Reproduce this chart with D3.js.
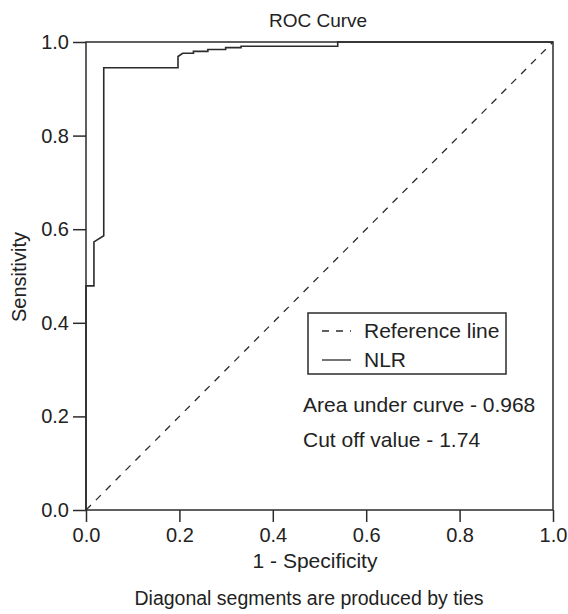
<!DOCTYPE html>
<html>
<head>
<meta charset="utf-8">
<style>
body { margin: 0; background: #fff; }
text { font-family: "Liberation Sans", Arial, sans-serif; fill: #222; }
</style>
</head>
<body>
<svg width="568" height="614"></svg>
<script src="https://d3js.org/d3.v7.min.js"></script>
<script>
// ROC curve points (1 - specificity, sensitivity)
var fpr = [0, 0, 0.017, 0.017, 0.038, 0.038, 0.197, 0.197, 0.207, 0.230, 0.230, 0.261, 0.261, 0.299, 0.299, 0.332, 0.332, 0.539, 0.539, 1.0];
var tpr = [0, 0.479, 0.479, 0.573, 0.586, 0.945, 0.945, 0.969, 0.976, 0.976, 0.980, 0.980, 0.984, 0.984, 0.988, 0.988, 0.991, 0.991, 1.0, 1.0];
var tickValues = [0, 0.2, 0.4, 0.6, 0.8, 1.0];
var legendLabels = ["Reference line", "NLR"];
var notes = ["Area under curve - 0.968", "Cut off value - 1.74"];

var svg = d3.select("svg"),
    plotL = 86, plotR = 553, plotT = 42, plotB = 510,
    ink = "#2b2b2b";

var x = d3.scaleLinear().domain([0, 1]).range([plotL, plotR]);
var y = d3.scaleLinear().domain([0, 1]).range([plotB, plotT]);

// frame
svg.append("rect")
    .attr("x", plotL).attr("y", plotT)
    .attr("width", plotR - plotL).attr("height", plotB - plotT)
    .attr("fill", "none").attr("stroke", ink).attr("stroke-width", 1.5);

// axes
var xAxis = svg.append("g")
    .attr("transform", "translate(0," + plotB + ")")
    .call(d3.axisBottom(x).tickValues(tickValues).tickFormat(d3.format(".1f")).tickSize(12).tickPadding(6));
var yAxis = svg.append("g")
    .attr("transform", "translate(" + plotL + ",0)")
    .call(d3.axisLeft(y).tickValues(tickValues).tickFormat(d3.format(".1f")).tickSize(13).tickPadding(4));

[xAxis, yAxis].forEach(function(a) {
    a.select(".domain").remove();
    a.selectAll("line").attr("stroke", ink).attr("stroke-width", 1.5);
    a.selectAll("text").attr("font-size", 20).attr("fill", "#222")
        .style("font-family", "'Liberation Sans', Arial, sans-serif");
});

// reference diagonal
svg.append("line")
    .attr("x1", x(0)).attr("y1", y(0)).attr("x2", x(1)).attr("y2", y(1))
    .attr("stroke", ink).attr("stroke-width", 1.3).attr("stroke-dasharray", "7,7");

// ROC curve
var pts = fpr.map(function(d, i) { return [d, tpr[i]]; });
svg.append("path")
    .datum(pts)
    .attr("fill", "none").attr("stroke", ink).attr("stroke-width", 1.6)
    .attr("d", d3.line().x(function(d) { return x(d[0]); }).y(function(d) { return y(d[1]); }));

// titles
svg.append("text").attr("x", 318).attr("y", 27).attr("text-anchor", "middle")
    .attr("font-size", 19).text("ROC Curve");
svg.append("text").attr("x", 315).attr("y", 568).attr("text-anchor", "middle")
    .attr("font-size", 21).text("1 - Specificity");
svg.append("text").attr("transform", "translate(26,277) rotate(-90)").attr("text-anchor", "middle")
    .attr("font-size", 20).text("Sensitivity");
svg.append("text").attr("x", 309).attr("y", 605).attr("text-anchor", "middle")
    .attr("font-size", 19.5).text("Diagonal segments are produced by ties");

// legend
svg.append("rect").attr("x", 308).attr("y", 313).attr("width", 198).attr("height", 61)
    .attr("fill", "#fff").attr("stroke", ink).attr("stroke-width", 1.5);
var leg = svg.selectAll(".leg").data(legendLabels).enter().append("g").attr("class", "leg")
    .attr("transform", function(d, i) { return "translate(0," + (338 + i * 29) + ")"; });
leg.append("line")
    .attr("x1", 322).attr("x2", 351).attr("y1", -7).attr("y2", -7)
    .attr("stroke", ink).attr("stroke-width", 1.3)
    .attr("stroke-dasharray", function(d, i) { return i === 0 ? "7,7" : null; });
leg.append("text").attr("x", 364).attr("font-size", 21).text(function(d) { return d; });

svg.selectAll(".note").data(notes).enter().append("text").attr("class", "note")
    .attr("x", 303).attr("y", function(d, i) { return 412 + i * 35; })
    .attr("font-size", 21).text(function(d) { return d; });
</script>
</body>
</html>
